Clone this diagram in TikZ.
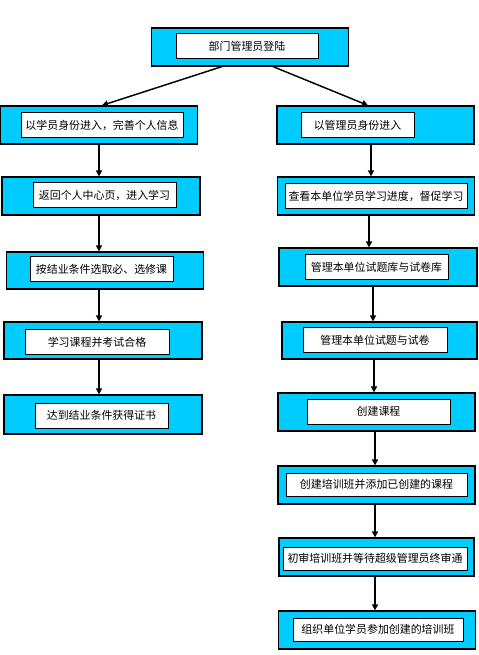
\documentclass[tikz,border=0pt]{standalone}
\usepackage{fontspec}
\setmainfont{Noto Sans CJK SC}
\usepackage{xcolor}
\usetikzlibrary{arrows.meta, positioning, calc}

\definecolor{boxcyan}{RGB}{0,204,255}

\begin{document}
\begin{tikzpicture}[
    x=0.75pt, y=-0.75pt,
    outer/.style={draw, line width=0.9pt, fill=boxcyan, minimum width=147.75pt, minimum height=28.5pt, inner sep=0pt},
    inner/.style={draw, line width=0.75pt, fill=white, minimum height=18.75pt, inner sep=1pt, font=\fontsize{8.2}{10}\selectfont},
    arr/.style={-{Triangle[length=4.5pt,width=4.5pt]}, line width=1.5pt}
]
    \useasboundingbox (0,0) rectangle (478,655);

    % login
    \node[outer] (top) at (250,47) {};
    \node[inner, minimum width=106.5pt] (topin) at (247,46) {部门管理员登陆};

    % student side
    \node[outer] (L1) at (99,125) {};
    \node[inner, minimum width=121.5pt] (L1in) at (102,125.5) {以学员身份进入，完善个人信息};
    \node[outer, minimum width=148.5pt] (L2) at (101,196) {};
    \node[inner, minimum width=107.25pt] (L2in) at (104.5,195.5) {返回个人中心页，进入学习};
    \node[outer, minimum height=27.75pt] (L3) at (105,270.5) {};
    \node[inner, minimum width=107.25pt] (L3in) at (101.5,269.5) {按结业条件选取必、选修课};
    \node[outer, minimum width=148.5pt, minimum height=27.75pt] (L4) at (103,340.5) {};
    \node[inner, minimum width=108pt] (L4in) at (97,342) {学习课程并考试合格};
    \node[outer, minimum width=148.5pt, minimum height=29.25pt] (L5) at (103,414.5) {};
    \node[inner, minimum width=99.75pt] (L5in) at (101.5,415.5) {达到结业条件获得证书};

    % admin side
    \node[outer] (R1) at (375.5,125) {};
    \node[inner, minimum width=84.75pt] (R1in) at (357.5,125.5) {以管理员身份进入};
    \node[outer] (R2) at (376,196) {};
    \node[inner, minimum width=136.5pt] (R2in) at (376,196.5) {查看本单位学员学习进度，督促学习};
    \node[outer, minimum width=148.5pt] (R3) at (378,267) {};
    \node[inner, minimum width=107.25pt] (R3in) at (376.5,267.5) {管理本单位试题库与试卷库};
    \node[outer, minimum width=146.25pt, minimum height=27.75pt] (R4) at (379.5,340.5) {};
    \node[inner, minimum width=108pt] (R4in) at (375,340) {管理本单位试题与试卷};
    \node[outer] (R5) at (376.5,412) {};
    \node[inner, minimum width=107.25pt] (R5in) at (378.5,411.5) {创建课程};
    \node[outer] (R6) at (376.5,485) {};
    \node[inner, minimum width=135.75pt, minimum height=17.25pt] (R6in) at (376.5,484.5) {创建培训班并添加已创建的课程};
    \node[outer, minimum width=146.25pt] (R7) at (376.5,557) {};
    \node[inner, minimum width=138pt, minimum height=17.25pt] (R7in) at (375,558.5) {初审培训班并等待超级管理员终审通};
    \node[outer] (R8) at (377,630) {};
    \node[inner, minimum width=127.5pt, minimum height=17.25pt] (R8in) at (378,629.5) {组织单位学员参加创建的培训班};

    % connectors
    \draw[arr, line width=1.1pt] ([xshift=-21pt]top.south) -- ([xshift=2.25pt]L1.north);
    \draw[arr, line width=1.1pt] ([xshift=17.25pt]top.south) -- ([xshift=-5.6pt]R1.north);

    \draw[arr] (L1.south) -- (L1.south |- L2.north);
    \draw[arr] ([xshift=-1.5pt]L2.south) -- ([xshift=-1.5pt]L2.south |- L3.north);
    \draw[arr] ([xshift=-4.5pt]L3.south) -- ([xshift=-4.5pt]L3.south |- L4.north);
    \draw[arr] ([xshift=-3pt]L4.south) -- ([xshift=-3pt]L4.south |- L5.north);

    \draw[arr] ([xshift=-3.375pt]R1.south) -- ([xshift=-3.375pt]R1.south |- R2.north);
    \draw[arr] ([xshift=-5.25pt]R2.south) -- ([xshift=-5.25pt]R2.south |- R3.north);
    \draw[arr] ([xshift=-3.75pt]R3.south) -- ([xshift=-3.75pt]R3.south |- R4.north);
    \draw[arr] ([xshift=-4.125pt]R4.south) -- ([xshift=-4.125pt]R4.south |- R5.north);
    \draw[arr] ([xshift=-1.125pt]R5.south) -- ([xshift=-1.125pt]R5.south |- R6.north);
    \draw[arr] ([xshift=-1.125pt]R6.south) -- ([xshift=-1.125pt]R6.south |- R7.north);
    \draw[arr] ([xshift=-1.125pt]R7.south) -- ([xshift=-1.125pt]R7.south |- R8.north);
\end{tikzpicture}
\end{document}
